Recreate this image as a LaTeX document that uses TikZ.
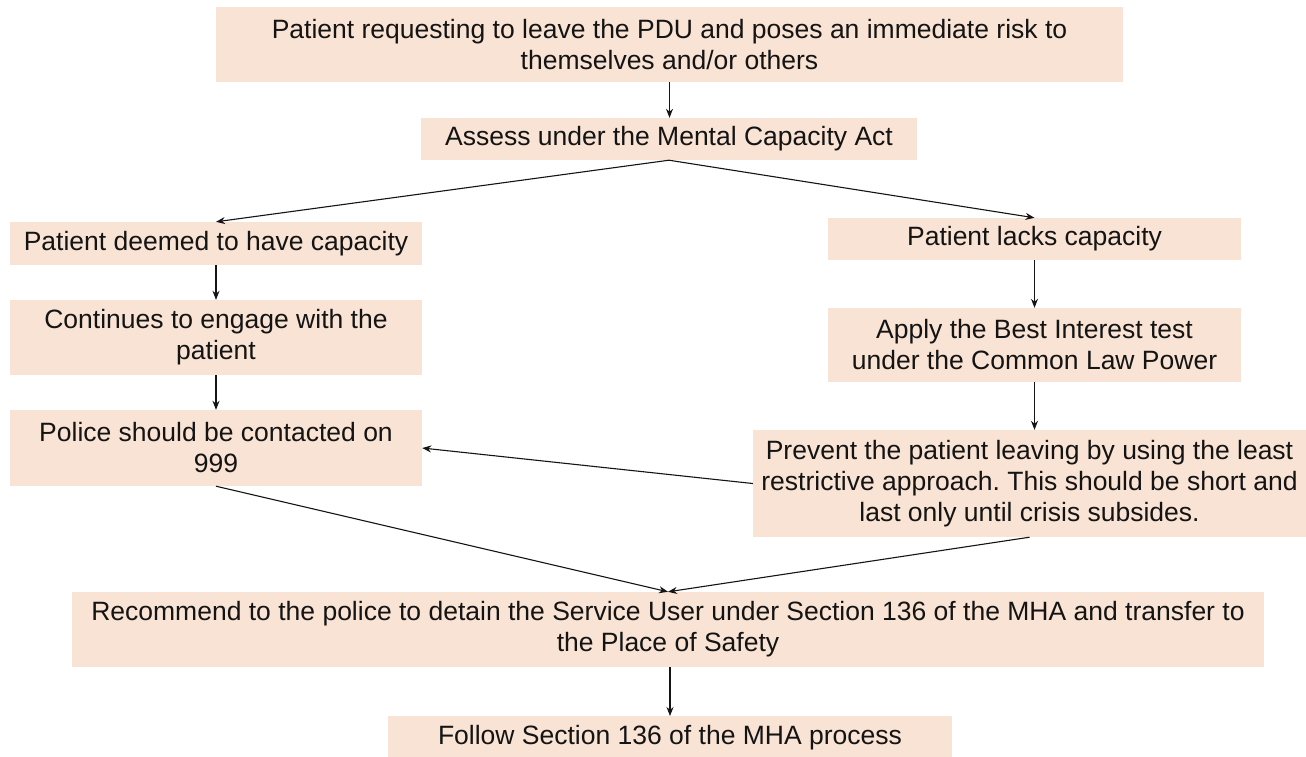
\documentclass[tikz,border=0pt]{standalone}
\usepackage{fontspec}
\setmainfont{Liberation Sans}
\usetikzlibrary{arrows.meta}
\definecolor{boxfill}{HTML}{F9E3D4}
\definecolor{txt}{HTML}{141414}
\frenchspacing
\begin{document}
\begin{tikzpicture}[x=1pt,y=-1pt,
  box/.style={fill=boxfill,draw=none,inner sep=0pt,align=center,text=txt,
    font=\fontsize{26.5}{31}\selectfont},
  conn/.style={draw=txt,line width=1.1pt,-{Stealth[length=9pt,width=7pt]}}]
\useasboundingbox (0,0) rectangle (1306,756);
\fill[white] (0,0) rectangle (1306,756);
\node[box,minimum width=907pt,minimum height=75pt] (top) at (669.5,44.5)
  {Patient requesting to leave the PDU and poses an immediate risk to\\themselves and/or others};
\node[box,minimum width=496pt,minimum height=42pt] (assess) at (669,139) {Assess under the Mental Capacity Act};
\node[box,minimum width=412pt,minimum height=43pt] (deemed) at (216,243.5) {Patient deemed to have capacity};
\node[box,minimum width=413pt,minimum height=42pt] (lacks) at (1034.5,239) {Patient lacks capacity};
\node[box,minimum width=412pt,minimum height=75pt] (engage) at (216,337.5) {Continues to engage with the\\patient};
\node[box,minimum width=413pt,minimum height=74pt] (apply) at (1034.5,345) {Apply the Best Interest test\\under the Common Law Power};
\node[box,minimum width=412pt,minimum height=76pt] (police) at (216,448) {Police should be contacted on\\999};
\node[box,minimum width=553pt,minimum height=107pt] (prevent) at (1029.5,483.5)
  {Prevent the patient leaving by using the least\\restrictive approach. This should be short and\\last only until crisis subsides.};
\node[box,minimum width=1192pt,minimum height=75pt] (recommend) at (668,629.5)
  {Recommend to the police to detain the Service User under Section 136 of the MHA and transfer to\\the Place of Safety};
\node[box,minimum width=564pt,minimum height=44pt,anchor=north] (follow) at (670,716) {\raisebox{6pt}{Follow Section 136 of the MHA process}};
\draw[conn] (top.south) -- (top.south |- assess.north);
\draw[conn] (assess.south) -- (deemed.north);
\draw[conn] (assess.south) -- (lacks.north);
\draw[conn] (deemed.south) -- (engage.north);
\draw[conn] (engage.south) -- (police.north);
\draw[conn] (lacks.south) -- (apply.north);
\draw[conn] (apply.south) -- (apply.south |- prevent.north);
\draw[conn] (prevent.west) -- (police.east);
\draw[conn] (police.south) -- (recommend.north);
\draw[conn] (prevent.south) -- (recommend.north);
\draw[conn] (follow.north |- recommend.south) -- (follow.north);
\end{tikzpicture}
\end{document}
